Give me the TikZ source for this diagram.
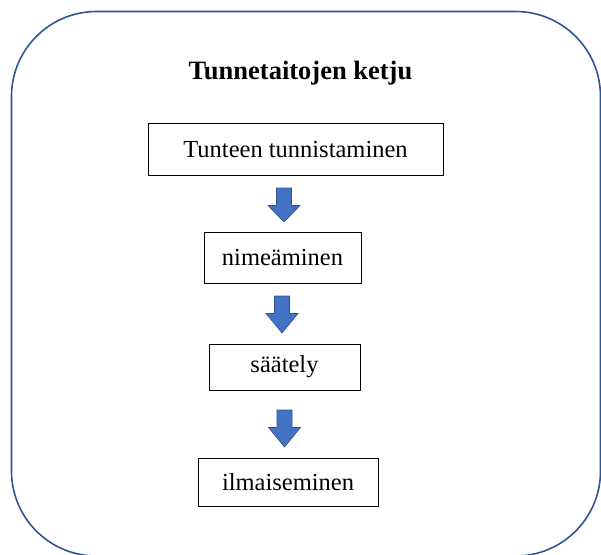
\documentclass[tikz,border=0pt]{standalone}
\usepackage{fontspec}
\setmainfont{Liberation Serif}
\definecolor{frameblue}{HTML}{2F5597}
\definecolor{arrowfill}{HTML}{4472C4}
\definecolor{arrowline}{HTML}{2F528F}
\begin{document}
\begin{tikzpicture}[x=1pt,y=-1pt,
  stepbox/.style={draw=black,line width=0.8pt,minimum height=#1,inner sep=0pt,font=\fontsize{24.5}{28}\selectfont},
  stepbox/.default=50pt,
  blockarr/.style={fill=arrowfill,draw=arrowline,line width=0.6pt,line join=miter}]
\useasboundingbox (0,0) rectangle (601,554);
\begin{scope}
\clip (0,0) rectangle (601,554);
\draw[frameblue,line width=1.6pt,rounded corners=85pt] (11.5,11.5) rectangle (600.5,556);
\end{scope}
\node[font=\bfseries\fontsize{26.5}{30}\selectfont] (title) at (300.5,73) {Tunnetaitojen ketju};
\node[stepbox=52pt,minimum width=295pt] (b1) at (295.5,149.5) {Tunteen tunnistaminen};
\node[stepbox=51pt,minimum width=157pt] (b2) at (282.5,257.5) {nimeäminen};
\node[stepbox=46pt,minimum width=151pt] (b3) at (284.5,367) {säätely};
\node[stepbox=48pt,minimum width=180pt] (b4) at (288,482) {ilmaiseminen};
\newcommand{\myblockarrow}[3]{%
  \draw[blockarr] (#1-7.5,#2) -- (#1+7.5,#2) -- (#1+7.5,#2+17.5) -- (#1+16,#2+17.5)
   -- (#1,#3) -- (#1-16,#2+17.5) -- (#1-7.5,#2+17.5) -- cycle;}
\myblockarrow{284}{188}{222}
\myblockarrow{282}{296}{333}
\myblockarrow{284.5}{410}{447}
\end{tikzpicture}
\end{document}
